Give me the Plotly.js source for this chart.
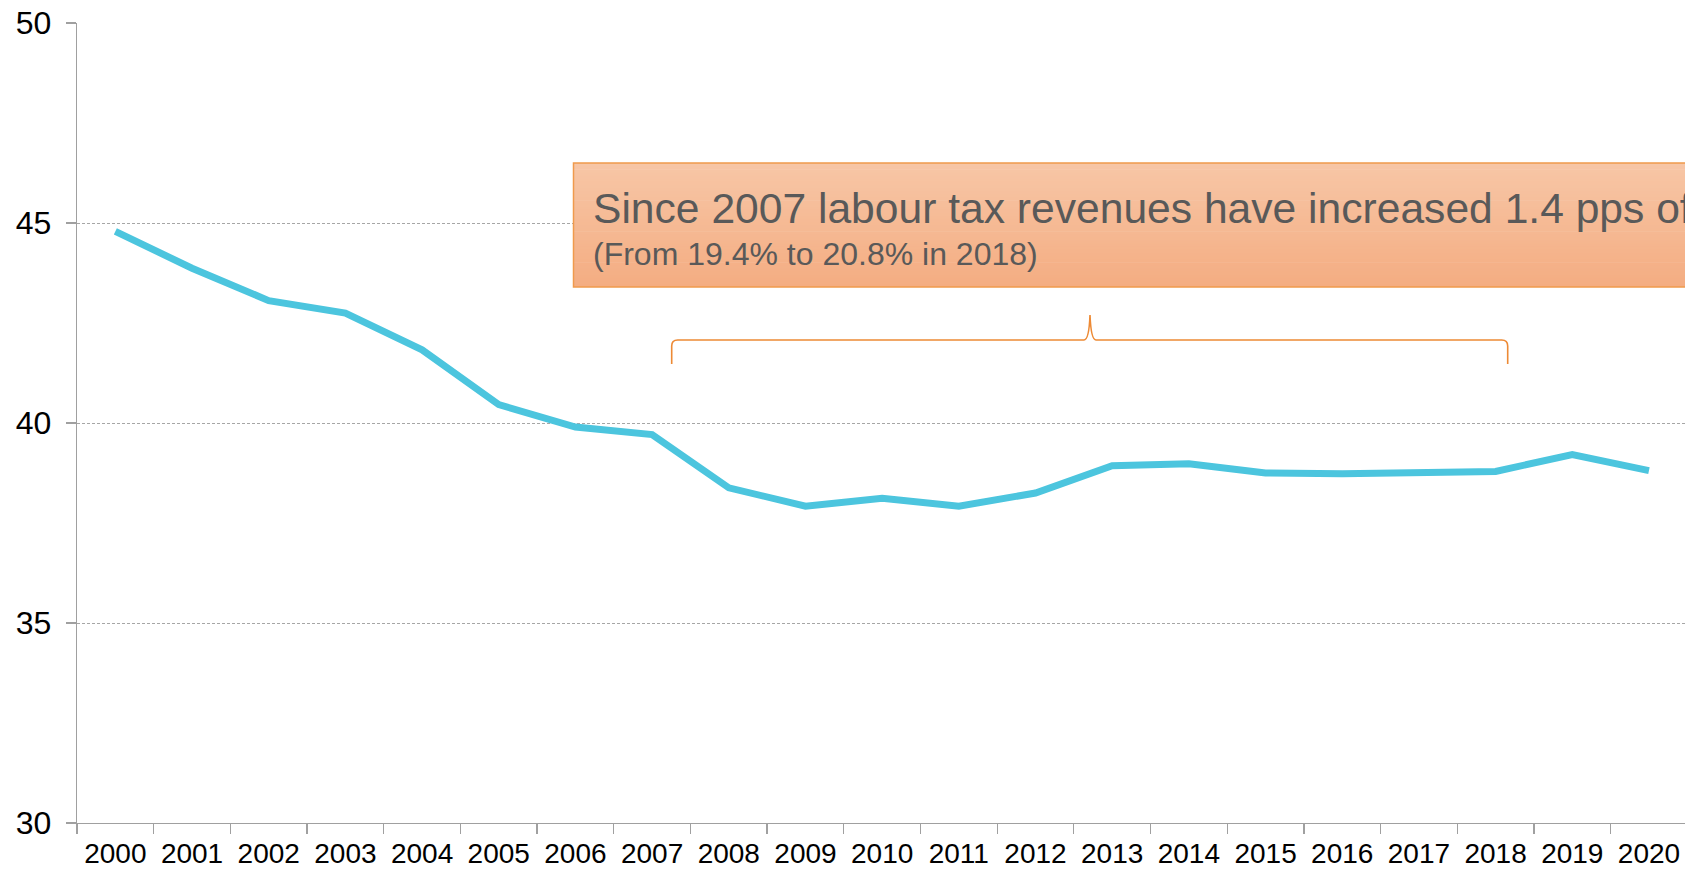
<!DOCTYPE html>
<html>
<head>
<meta charset="utf-8">
<script src="https://cdn.plot.ly/plotly-3.0.1.min.js"></script>
<style>html,body{margin:0;padding:0;background:#fff;overflow:hidden}</style>
</head>
<body>
<div id="chart" style="width:1685px;height:871px"></div>
<script>
// ---- data ----
const years = ['2000','2001','2002','2003','2004','2005','2006','2007','2008','2009','2010',
               '2011','2012','2013','2014','2015','2016','2017','2018','2019','2020'];
const values = [44.79, 43.87, 43.06, 42.75, 41.83, 40.46, 39.90, 39.71, 38.38, 37.92, 38.12,
                37.92, 38.25, 38.93, 38.98, 38.75, 38.73, 38.77, 38.79, 39.21, 38.81];
const yTickVals = [30, 35, 40, 45, 50];
const yTickText = ['30', '35', '40', '45', '50'];
const noteTitle = 'Since 2007 labour tax revenues have increased 1.4 pps of';
const noteSub = '(From 19.4% to 20.8% in 2018)';

// ---- layout helpers (pixel -> paper) ----
const FIG_W = 1685, FIG_H = 871;
const M = {l: 77, r: 0, t: 23, b: 48};
const PW = FIG_W - M.l - M.r, PH = FIG_H - M.t - M.b;
const X = p => (p - M.l) / PW;
const Y = p => (M.t + PH - p) / PH;

// gradient box as thin bands
const shapes = [];
const boxL = 573.5, boxR = 1700, boxT = 163, boxB = 287;
const c0 = [247, 198, 166], c1 = [244, 173, 130];
const N = 40;
for (let i = 0; i < N; i++) {
  const f = i / (N - 1);
  const c = c0.map((v, k) => Math.round(v + (c1[k] - v) * f));
  const y0 = boxT + (boxB - boxT) * i / N;
  const y1 = boxT + (boxB - boxT) * (i + 1) / N + 0.6;
  shapes.push({type: 'rect', xref: 'paper', yref: 'paper',
    x0: X(boxL), x1: X(boxR), y0: Y(Math.min(y1, boxB)), y1: Y(y0),
    fillcolor: `rgb(${c[0]},${c[1]},${c[2]})`, line: {width: 0}, layer: 'above'});
}
shapes.push({type: 'rect', xref: 'paper', yref: 'paper',
  x0: X(boxL), x1: X(boxR), y0: Y(boxB), y1: Y(boxT),
  fillcolor: 'rgba(0,0,0,0)', line: {color: '#F09A4C', width: 1.5}, layer: 'above'});

// curly bracket
const P = (x, y) => `${X(x)},${Y(y)}`;
const bl = 671.7, br = 1507.7, bm = 1090, by = 340, bBot = 364, bTip = 315;
const bracePath =
  `M ${P(bl, bBot)} L ${P(bl, by + 6)} Q ${P(bl, by)} ${P(bl + 6, by)} ` +
  `L ${P(bm - 6, by)} Q ${P(bm - 1, by)} ${P(bm, bTip)} Q ${P(bm + 1, by)} ${P(bm + 6, by)} ` +
  `L ${P(br - 6, by)} Q ${P(br, by)} ${P(br, by + 6)} L ${P(br, bBot)}`;
shapes.push({type: 'path', xref: 'paper', yref: 'paper', path: bracePath,
  line: {color: '#ED8A35', width: 1.6}, layer: 'above'});

const trace = {
  x: years, y: values, type: 'scatter', mode: 'lines',
  line: {color: '#4CC5DE', width: 7},
  hoverinfo: 'skip'
};

const layout = {
  width: FIG_W, height: FIG_H,
  margin: M,
  paper_bgcolor: '#ffffff', plot_bgcolor: '#ffffff',
  showlegend: false,
  font: {family: 'Liberation Sans, Arial, sans-serif', color: '#000'},
  xaxis: {
    type: 'category', range: [-0.5, 20.47], fixedrange: true,
    showgrid: false, zeroline: false,
    showline: true, linecolor: '#A0A0A0', linewidth: 1.3,
    ticks: 'outside', tickson: 'boundaries', ticklen: 10, tickcolor: '#A0A0A0', tickwidth: 1.3,
    tickfont: {size: 28, color: '#000', family: 'Liberation Sans, Arial, sans-serif'},
    ticklabelstandoff: 5, automargin: false
  },
  yaxis: {
    range: [30, 50], fixedrange: true,
    tickvals: yTickVals, ticktext: yTickText,
    showgrid: true, gridcolor: '#A6A6A6', gridwidth: 1, griddash: '3px,2px',
    zeroline: false,
    showline: true, linecolor: '#A0A0A0', linewidth: 1.3,
    ticks: 'outside', ticklen: 10, tickcolor: '#A0A0A0', tickwidth: 1.3,
    tickfont: {size: 32, color: '#000', family: 'Liberation Sans, Arial, sans-serif'},
    ticklabelstandoff: 8, automargin: false
  },
  shapes: shapes,
  annotations: [
    {xref: 'paper', yref: 'paper', x: X(591), y: Y(208), xanchor: 'left', yanchor: 'middle',
     text: noteTitle, showarrow: false,
     font: {size: 42.6, color: '#595959', family: 'Liberation Sans, Arial, sans-serif'}},
    {xref: 'paper', yref: 'paper', x: X(591), y: Y(254), xanchor: 'left', yanchor: 'middle',
     text: noteSub, showarrow: false,
     font: {size: 32, color: '#595959', family: 'Liberation Sans, Arial, sans-serif'}}
  ]
};

Plotly.newPlot('chart', [trace], layout, {displayModeBar: false, staticPlot: true});
</script>
</body>
</html>
